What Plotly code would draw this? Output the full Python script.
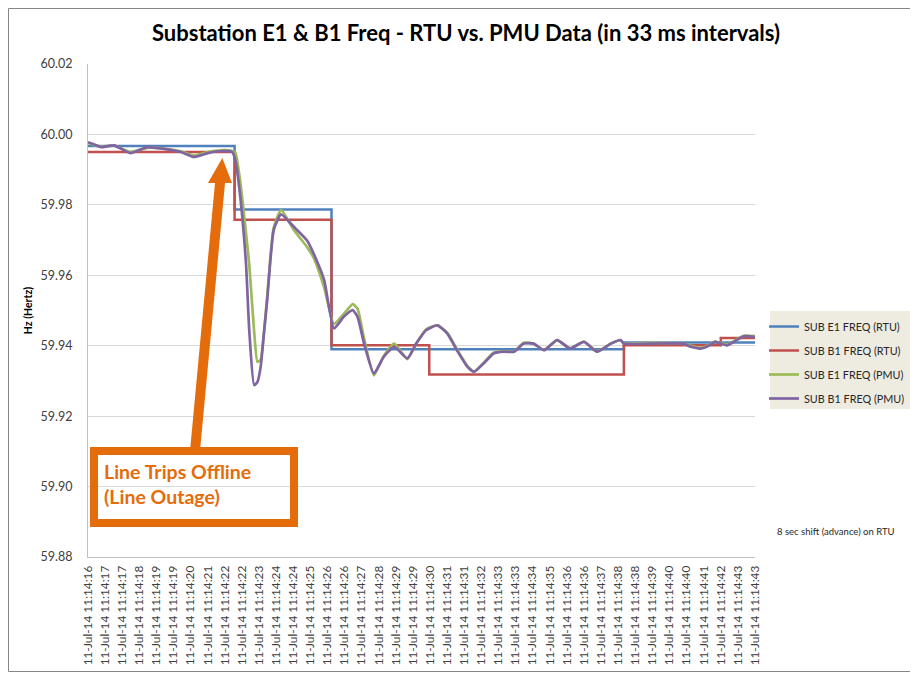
import plotly.graph_objects as go

# ---------------- data ----------------
# x = sample number (33 ms intervals), tick labels every 21 samples
tick_labels = ["11-Jul-14 11:14:" + s for s in [
    "16", "17", "17", "18", "19", "19", "20", "21", "22", "22",
    "23", "24", "24", "25", "26", "26", "27", "28", "29", "29",
    "30", "31", "31", "32", "33", "33", "34", "35", "36", "36",
    "37", "38", "38", "39", "40", "40", "41", "42", "43", "43"]]
tick_step = 21

rtu_e1_x = [0, 180, 299, 658, 819]
rtu_e1_y = [59.9967, 59.9787, 59.9390, 59.9409, 59.9409]

rtu_b1_x = [0, 180, 299, 419, 658, 777, 819]
rtu_b1_y = [59.9950, 59.9758, 59.9401, 59.9318, 59.9401, 59.9422, 59.9422]

pmu_x = [0, 7, 16, 32, 52, 73, 93, 114, 130, 147, 163, 177, 181, 187, 194,
         198, 204, 208, 212, 216, 220, 228, 237, 253, 269, 277, 290, 302,
         314, 325, 331, 339, 351, 363, 376, 392, 403, 415, 429, 441, 453,
         466, 474, 486, 498, 511, 523, 535, 547, 560, 576, 592, 609, 625,
         642, 654, 658, 690, 731, 740, 752, 760, 770, 785, 793, 805, 819]

pmu_e1_y = [59.9976, 59.9970, 59.9966, 59.9968, 59.9950, 59.9962, 59.9960,
            59.9952, 59.9940, 59.9950, 59.9955, 59.9953, 59.9948, 59.9865,
            59.9720, 59.9630, 59.9440, 59.9354, 59.9360, 59.9435, 59.9540,
            59.9735, 59.9785, 59.9728, 59.9680, 59.9650, 59.9565, 59.9462,
            59.9490, 59.9518, 59.9505, 59.9420, 59.9316, 59.9370, 59.9406,
            59.9362, 59.9406, 59.9446, 59.9458, 59.9437, 59.9390, 59.9342,
            59.9326, 59.9352, 59.9380, 59.9385, 59.9383, 59.9408, 59.9406,
            59.9388, 59.9416, 59.9393, 59.9412, 59.9384, 59.9406, 59.9416,
            59.9407, 59.9408, 59.9406, 59.9400, 59.9393, 59.9399, 59.9412,
            59.9403, 59.9413, 59.9428, 59.9427]

pmu_b1_y = [59.9978, 59.9972, 59.9964, 59.9969, 59.9947, 59.9964, 59.9959,
            59.9950, 59.9936, 59.9947, 59.9953, 59.9950, 59.9926, 59.9822,
            59.9633, 59.9444, 59.9288, 59.9297, 59.9340, 59.9435, 59.9529,
            59.9728, 59.9773, 59.9737, 59.9699, 59.9662, 59.9586, 59.9449,
            59.9482, 59.9501, 59.9482, 59.9406, 59.9321, 59.9368, 59.9397,
            59.9364, 59.9406, 59.9444, 59.9458, 59.9435, 59.9387, 59.9340,
            59.9326, 59.9350, 59.9378, 59.9383, 59.9383, 59.9406, 59.9406,
            59.9387, 59.9416, 59.9392, 59.9411, 59.9383, 59.9406, 59.9416,
            59.9406, 59.9406, 59.9406, 59.9397, 59.9392, 59.9397, 59.9411,
            59.9401, 59.9411, 59.9427, 59.9425]

# ---------------- layout helpers ----------------
OFF = 8                      # page body margin in the browser
SW, SH = 918, 673            # screen size
W, H = SW - OFF, SH - OFF    # figure size
PL, PR, PT, PB = 88, 755, 64, 557   # plot area in screen pixels


def xp(px):
    return (px - PL) / (PR - PL)


def yp(py):
    return (PB - py) / (PB - PT)


FONT = "Lato"
ORANGE = "#E46C0A"

fig = go.Figure()
fig.add_trace(go.Scatter(x=rtu_e1_x, y=rtu_e1_y, mode="lines", line_shape="hv",
                         line=dict(color="#4F81BD", width=2.5),
                         name="SUB E1 FREQ (RTU)", legendgroup="a"))
fig.add_trace(go.Scatter(x=rtu_b1_x, y=rtu_b1_y, mode="lines", line_shape="hv",
                         line=dict(color="#C0504D", width=2.5),
                         name="SUB B1 FREQ (RTU)", legendgroup="b"))
fig.add_trace(go.Scatter(x=pmu_x, y=pmu_e1_y, mode="lines", line_shape="spline",
                         line=dict(color="#9BBB59", width=2.7, smoothing=0.5),
                         name="SUB E1 FREQ (PMU)", legendgroup="c"))
fig.add_trace(go.Scatter(x=pmu_x, y=pmu_b1_y, mode="lines", line_shape="spline",
                         line=dict(color="#8064A2", width=2.7, smoothing=0.5),
                         name="SUB B1 FREQ (PMU)", legendgroup="d"))

# arrow polygon (screen pixel coords -> paper)
arrow_px = [(190, 451), (215, 183), (208, 183), (222.3, 158), (232, 183),
            (225, 183), (200, 451)]
path = "M " + " L ".join(f"{xp(a):.5f},{yp(b):.5f}" for a, b in arrow_px) + " Z"

shapes = [
    dict(type="rect", xref="paper", yref="paper", x0=xp(8.5), x1=xp(916.5),
         y0=yp(671.5), y1=yp(8.5), line=dict(color="#868686", width=1), layer="below"),
    # legend background panel
    dict(type="rect", xref="paper", yref="paper", x0=xp(770), x1=xp(920),
         y0=yp(409), y1=yp(311), fillcolor="#EEECE1", line=dict(width=0),
         layer="below"),
    dict(type="rect", xref="paper", yref="paper", x0=xp(94), x1=xp(294),
         y0=yp(523), y1=yp(451), line=dict(color=ORANGE, width=8)),
    dict(type="path", xref="paper", yref="paper", path=path,
         fillcolor=ORANGE, line=dict(width=0)),
]

annotations = [
    dict(text="Line Trips Offline", xref="paper", yref="paper", x=xp(102), y=yp(471),
         xanchor="left", yanchor="middle", showarrow=False,
         font=dict(family=FONT, size=19.5, color=ORANGE, weight="bold")),
    dict(text="(Line Outage)", xref="paper", yref="paper", x=xp(102), y=yp(496),
         xanchor="left", yanchor="middle", showarrow=False,
         font=dict(family=FONT, size=19.5, color=ORANGE, weight="bold")),
    dict(text="8 sec shift (advance) on RTU", xref="paper", yref="paper",
         x=xp(775), y=yp(531), xanchor="left", yanchor="middle", showarrow=False,
         font=dict(family=FONT, size=9.5, color="#262626")),
]

fig.update_layout(
    template="none",
    width=W, height=H,
    margin=dict(l=PL - OFF, r=SW - PR, t=PT - OFF, b=SH - PB, autoexpand=False),
    paper_bgcolor="white", plot_bgcolor="white",
    font=dict(family=FONT, size=11, color="#404040"),
    title=dict(text="<b>Substation E1 &amp; B1 Freq - RTU vs. PMU Data (in 33 ms intervals)</b>",
               xref="container", x=(466 - OFF) / W, xanchor="center",
               yref="container", y=1 - (33 - OFF) / H, yanchor="middle",
               font=dict(family=FONT, size=22, color="#000000")),
    showlegend=True,
    legend=dict(x=xp(764), xanchor="left", y=yp(312), yanchor="top",
                bgcolor="rgba(0,0,0,0)", borderwidth=0, tracegroupgap=5,
                font=dict(family=FONT, size=10.8, color="#262626"),
                itemwidth=30),
    xaxis=dict(range=[0, 819], tickmode="array", automargin=False,
               tickvals=[i * tick_step for i in range(len(tick_labels))],
               ticktext=tick_labels, tickangle=-90, showgrid=False,
               showline=True, linecolor="#BFBFBF", linewidth=1,
               ticks="", ticklabelstandoff=3,
               tickfont=dict(family=FONT, size=11.8, color="#404040"),
               zeroline=False),
    yaxis=dict(range=[59.88, 60.02], dtick=0.02, tick0=59.88, tickformat=".2f",
               automargin=False,
               showgrid=True, gridcolor="#D9D9D9", gridwidth=1,
               showline=True, linecolor="#BFBFBF", linewidth=1,
               ticks="", ticklabelstandoff=12, zeroline=False,
               tickfont=dict(family=FONT, size=12.5, color="#404040"),
               title=dict(text="<b>Hz (Hertz)</b>", standoff=5,
                          font=dict(family=FONT, size=10.5, color="#000000"))),
    shapes=shapes,
    annotations=annotations,
)

fig.write_html("out.html")
